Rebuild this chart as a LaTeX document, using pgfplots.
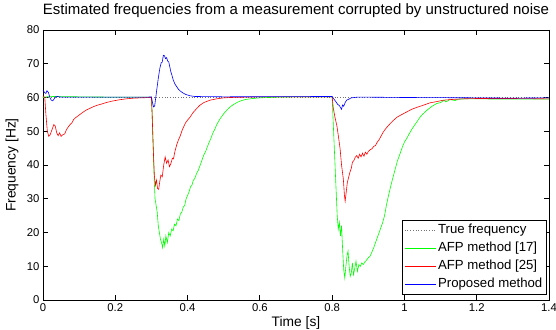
\documentclass[border=0pt]{standalone}
\usepackage{fontspec}
\setmainfont{Liberation Sans}
\usepackage{pgfplots}
\pgfplotsset{compat=1.18}
\pgfplotstableread{
t f
0 60
1.4 60
}\trued
\pgfplotstableread{
t f
0 60
0.01 60.2
0.03 60.3
0.1 60.2
0.2 60.1
0.3 60.1
0.302 55
0.305 45
0.308 35
0.31 30
0.313 28
0.316 26
0.319 22
0.322 20
0.325 18
0.328 17
0.331 15.5
0.334 18
0.337 16
0.34 19
0.344 17
0.348 20
0.352 19
0.356 21
0.36 20.5
0.364 22.5
0.368 22
0.372 24
0.376 23.5
0.38 25.5
0.384 26
0.388 27.5
0.392 28
0.396 30
0.40 31
0.404 32
0.408 33.5
0.412 34
0.416 35.5
0.42 36
0.425 37.5
0.43 38.5
0.435 40
0.44 41.5
0.445 43
0.45 44
0.455 45.5
0.46 46.8
0.465 48
0.47 49.5
0.475 50.5
0.48 51.8
0.485 52.8
0.49 53.7
0.5 55.2
0.51 56.4
0.52 57.4
0.53 58.1
0.54 58.7
0.55 59.1
0.56 59.4
0.58 59.7
0.6 59.9
0.65 60.1
0.7 60.2
0.8 60.2
0.802 55
0.806 45
0.81 35
0.814 25
0.817 21
0.82 23
0.823 19
0.826 22
0.829 15
0.832 9
0.835 6.5
0.838 10
0.841 13
0.844 14.5
0.847 10
0.85 7
0.853 8
0.856 11
0.859 7.5
0.862 9
0.866 11.5
0.87 8.5
0.874 10.5
0.878 10
0.882 11
0.886 10.5
0.89 11.2
0.895 11.8
0.9 12.5
0.905 13
0.91 14.2
0.915 15.5
0.92 17
0.925 18.5
0.93 20
0.935 21.5
0.94 23
0.945 25
0.95 28
0.955 30.5
0.96 32.8
0.965 35
0.97 37
0.975 39
0.98 41
0.985 42.5
0.99 44
0.995 45.5
1.0 46.8
1.006 47.8
1.012 49
1.02 50.5
1.028 51.8
1.034 52.7
1.042 54
1.05 55
1.062 56.2
1.075 57.3
1.089 58.2
1.1 58.5
1.11 59.2
1.115 58.7
1.126 59.4
1.14 59.1
1.15 59.5
1.17 59.6
1.2 59.6
1.3 59.5
1.4 59.5
}\greend
\pgfplotstableread{
t f
0 60.5
0.005 60
0.008 55
0.012 50
0.016 48.5
0.02 49
0.025 50.5
0.03 52
0.034 51.5
0.038 49.5
0.042 48.7
0.046 49.5
0.05 48.5
0.055 49
0.06 49.2
0.065 50.5
0.07 51.3
0.075 52
0.08 52.5
0.085 53.5
0.09 54
0.1 54.8
0.11 55.6
0.12 56.3
0.13 56.8
0.14 57.3
0.15 57.7
0.16 58
0.175 58.5
0.19 58.9
0.21 59.3
0.23 59.6
0.25 59.8
0.27 59.9
0.3 60
0.302 55
0.305 45
0.308 37
0.311 34
0.314 35.5
0.317 33
0.32 32.8
0.323 35
0.326 37
0.33 36.5
0.334 40
0.338 42.4
0.342 40.5
0.346 41.5
0.35 39.5
0.354 40.5
0.358 42
0.361 41.8
0.365 44
0.37 46
0.375 47.5
0.38 48.7
0.385 50.3
0.39 51.5
0.395 52.6
0.4 53.3
0.407 54.2
0.415 55.5
0.425 56.7
0.434 57.7
0.445 58.5
0.462 59.2
0.48 59.6
0.5 59.9
0.52 60
0.6 60.2
0.8 60.2
0.803 57
0.808 54
0.813 51.7
0.818 48
0.822 44.8
0.826 40
0.831 35.8
0.834 31
0.836 29.3
0.839 32
0.842 34.8
0.846 36.5
0.849 37.8
0.853 39
0.856 40.8
0.86 41.3
0.864 42.3
0.868 42.8
0.872 42
0.876 43.2
0.88 42.4
0.884 43.5
0.888 42.6
0.892 43.8
0.896 43.2
0.9 44
0.905 44.5
0.91 44.8
0.915 45.5
0.92 45.8
0.925 46.8
0.93 47.5
0.935 48.5
0.94 49.5
0.945 50.3
0.95 51
0.96 52.2
0.969 53.2
0.98 54.2
0.99 54.8
1.006 55.7
1.02 56.5
1.035 57.1
1.052 57.7
1.07 58.4
1.09 58.8
1.108 59.2
1.13 59.4
1.16 59.6
1.2 59.7
1.3 59.7
1.4 59.6
}\redd
\pgfplotstableread{
t f
0 62.2
0.004 61.5
0.008 61.2
0.011 62
0.015 61.5
0.019 60
0.023 59.2
0.027 59
0.031 59.6
0.035 60.2
0.04 60.3
0.05 60.1
0.1 60.1
0.2 60.1
0.29 60.1
0.3 60.2
0.303 58.5
0.306 57.2
0.309 57.5
0.312 60
0.315 62.5
0.319 65.7
0.323 68.5
0.327 70.3
0.33 70.5
0.333 72.5
0.336 72.4
0.339 71.5
0.342 71.8
0.345 70.8
0.348 70.5
0.351 69
0.354 67.5
0.357 66.5
0.36 65.3
0.365 64
0.37 63.2
0.375 62.4
0.38 61.9
0.388 61.3
0.395 60.9
0.407 60.5
0.42 60.3
0.5 60.2
0.8 60.3
0.805 59.5
0.81 58.8
0.815 58
0.82 57.6
0.823 57
0.826 56.5
0.829 57.8
0.832 57.4
0.836 58.5
0.84 59.2
0.846 59.5
0.853 59.9
0.87 60.1
0.9 60.1
1.0 60
1.2 59.9
1.3 59.8
1.4 59.9
}\blued
\begin{document}
\begin{tikzpicture}
\begin{axis}[
  name=ax,
  scale only axis, width=506pt, height=270pt,
  xmin=0, xmax=1.4, ymin=0, ymax=80,
  xtick={0,0.2,0.4,0.6,0.8,1,1.2,1.4},
  ytick={0,10,20,30,40,50,60,70,80},
  tick align=inside, major tick length=5pt,
  axis line style={line width=0.9pt},
  every tick/.style={black, line width=0.8pt},
  /pgf/number format/assume math mode=true,
  ticklabel style={font=\fontsize{11.3}{13}\selectfont},
  title={Estimated frequencies from a measurement corrupted by unstructured noise},
  title style={font=\fontsize{15}{17}\selectfont, at={(axis description cs:0.5,1)}, anchor=base, yshift=9.5pt},
  xlabel={Time [s]}, ylabel={Frequency [Hz]},
  label style={font=\fontsize{13.8}{15}\selectfont},
  xlabel style={at={(axis description cs:0.5,-0.085)}, anchor=center},
  ylabel style={at={(axis description cs:-0.061,0.5)}, anchor=center},
  legend style={at={(1,0)}, anchor=south east, xshift=-2.5pt, yshift=6pt,
    font=\fontsize{13.2}{15}\selectfont,
    inner xsep=2pt, inner ysep=1pt, row sep=0pt,
    nodes={text height=9.6pt, text depth=3pt, inner ysep=2.6pt, inner xsep=2pt}},
  legend cell align=left,
  legend image code/.code={\draw[mark repeat=2,mark phase=2,#1] plot coordinates {(0pt,0pt) (15pt,0pt) (31pt,0pt)};},
]
\addplot[black!55, dotted, line width=0.7pt] table[x=t,y=f]{\trued};
\addlegendentry{True frequency}
\addplot[green, line width=0.6pt] table[x=t,y=f]{\greend};
\addlegendentry{AFP method [17]}
\addplot[red, line width=0.6pt] table[x=t,y=f]{\redd};
\addlegendentry{AFP method [25]}
\addplot[blue, line width=0.6pt] table[x=t,y=f]{\blued};
\addlegendentry{Proposed method}
\end{axis}
\pgfresetboundingbox
\path[use as bounding box] ([xshift=-43pt,yshift=-30pt]ax.south west) rectangle ([xshift=7pt,yshift=30pt]ax.north east);
\end{tikzpicture}
\end{document}
